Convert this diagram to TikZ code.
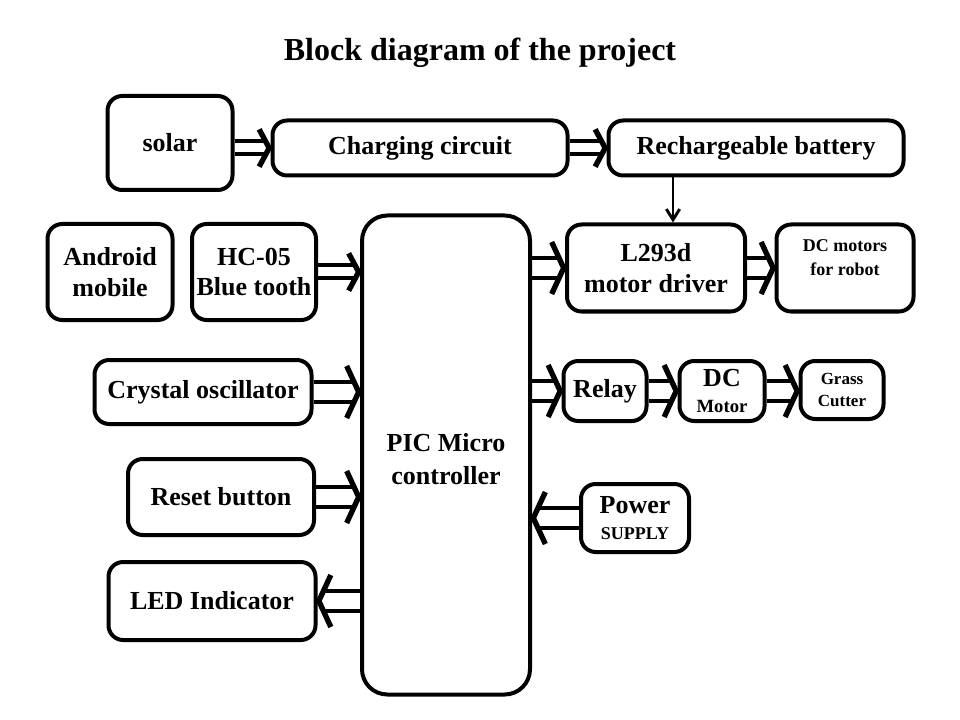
\documentclass[tikz,border=0pt]{standalone}
\usepackage{fontspec}
\setmainfont{Liberation Serif}
\usepackage{tikz}
\usetikzlibrary{arrows.meta,decorations.markings,backgrounds}

\begin{document}
\begin{tikzpicture}[x=0.75pt,y=-0.75pt,
	box/.style={draw,line width=3pt,rounded corners=11pt,inner sep=0pt,align=center,font=\fontsize{19.5}{23}\selectfont\bfseries},
	small/.style={font=\fontsize{13.5}{18}\selectfont\bfseries,align=center,inner sep=0pt},
	blkarrow/.style n args={3}{preaction={draw,line width=3pt,double distance=#1,shorten >=4.5pt},
		postaction={decorate,decoration={markings,mark=at position 1 with {\draw[line width=4pt,line join=miter] (-#3-1pt,#2) -- (-1pt,0) -- (-#3-1pt,-#2);}}}},
	blk/.style={blkarrow={12pt}{19.5pt}{9pt}},
	thinblk/.style={blkarrow={6.75pt}{14pt}{7.5pt}},
	feed/.style={line width=2.2pt,-{Straight Barb[length=8pt,width=10pt]}}]
			\useasboundingbox (0,0) rectangle (960,720);
			\node[font=\fontsize{24}{28}\selectfont\bfseries] (title) at (480,53) {Block diagram of the project};
			% power chain along the top
			\node[box,minimum width=93.75pt,minimum height=70.5pt] (solar) at (170,143) {solar};
			\node[box,minimum width=221.25pt,minimum height=41.25pt] (charge) at (420,148) {Charging circuit};
			\node[box,minimum width=221.25pt,minimum height=41.25pt] (battery) at (756,148) {Rechargeable battery};
			% inputs on the left
			\node[box,minimum width=93.75pt,minimum height=72pt] (android) at (110,272) {Android\\mobile};
			\node[box,minimum width=93pt,minimum height=72pt] (bt) at (254,272) {HC-05\\Blue tooth};
			\node[box,minimum width=162.75pt,minimum height=48pt] (crystal) at (203,392) {Crystal oscillator};
			\node[box,minimum width=139.5pt,minimum height=57pt] (reset) at (221,497) {Reset button};
			\node[box,minimum width=155.25pt,minimum height=58.5pt] (led) at (212,601) {LED Indicator};
			% controller
			\node[box,minimum width=126pt,minimum height=359.25pt,rounded corners=19pt] (pic) at (446,455) {};
			\node[box,draw=none,font=\fontsize{19.5}{25}\selectfont\bfseries] (pictxt) at (446,459) {PIC Micro\\controller};
			% outputs on the right
			\node[box,minimum width=133.5pt,minimum height=65.25pt] (driver) at (656,268) {L293d\\motor driver};
			\node[box,minimum width=102.75pt,minimum height=65.25pt] (motors) at (845,268) {};
			\node[small] (motorstxt) at (845,258) {DC motors\\for robot};
			\node[box,minimum width=62.25pt,minimum height=45pt] (relay) at (605,391) {Relay};
			\node[box,minimum width=63.75pt,minimum height=45pt] (dcmotor) at (722,391) {DC\\[-4pt]{\fontsize{14}{16}\selectfont Motor}};
			\node[box,minimum width=62.25pt,minimum height=43.5pt,font=\fontsize{12.75}{17}\selectfont\bfseries] (grass) at (842,390) {Grass\\Cutter};
			\node[box,minimum width=81pt,minimum height=51pt] (power) at (635,518) {Power\\[-3pt]{\fontsize{13.5}{16}\selectfont SUPPLY}};
			\begin{pgfonlayer}{background}
				\fill[white] (0,0) rectangle (960,720);
				\path[thinblk] (solar.east |- charge.west) -- (charge.west);
				\path[thinblk] (charge.east) -- (battery.west);
				\path[thinblk] (bt.east) -- (bt.east -| pic.west);
				\path[blk] (crystal.east) -- (crystal.east -| pic.west);
				\path[blk] (reset.east) -- (reset.east -| pic.west);
				\path[blk] (led.east -| pic.west) -- (led.east);
				\path[blk] (power.west) -- (power.west -| pic.east);
				\path[blk] (driver.west -| pic.east) -- (driver.west);
				\path[blk] (driver.east) -- (motors.west);
				\path[blk] (relay.west -| pic.east) -- (relay.west);
				\path[blk] (relay.east) -- (dcmotor.west);
				\path[blk] (dcmotor.east) -- (dcmotor.east -| grass.west);
				\draw[feed] ([xshift=12.75pt]driver.north |- battery.south) -- ([xshift=12.75pt]driver.north);
			\end{pgfonlayer}
		\end{tikzpicture}
\end{document}
